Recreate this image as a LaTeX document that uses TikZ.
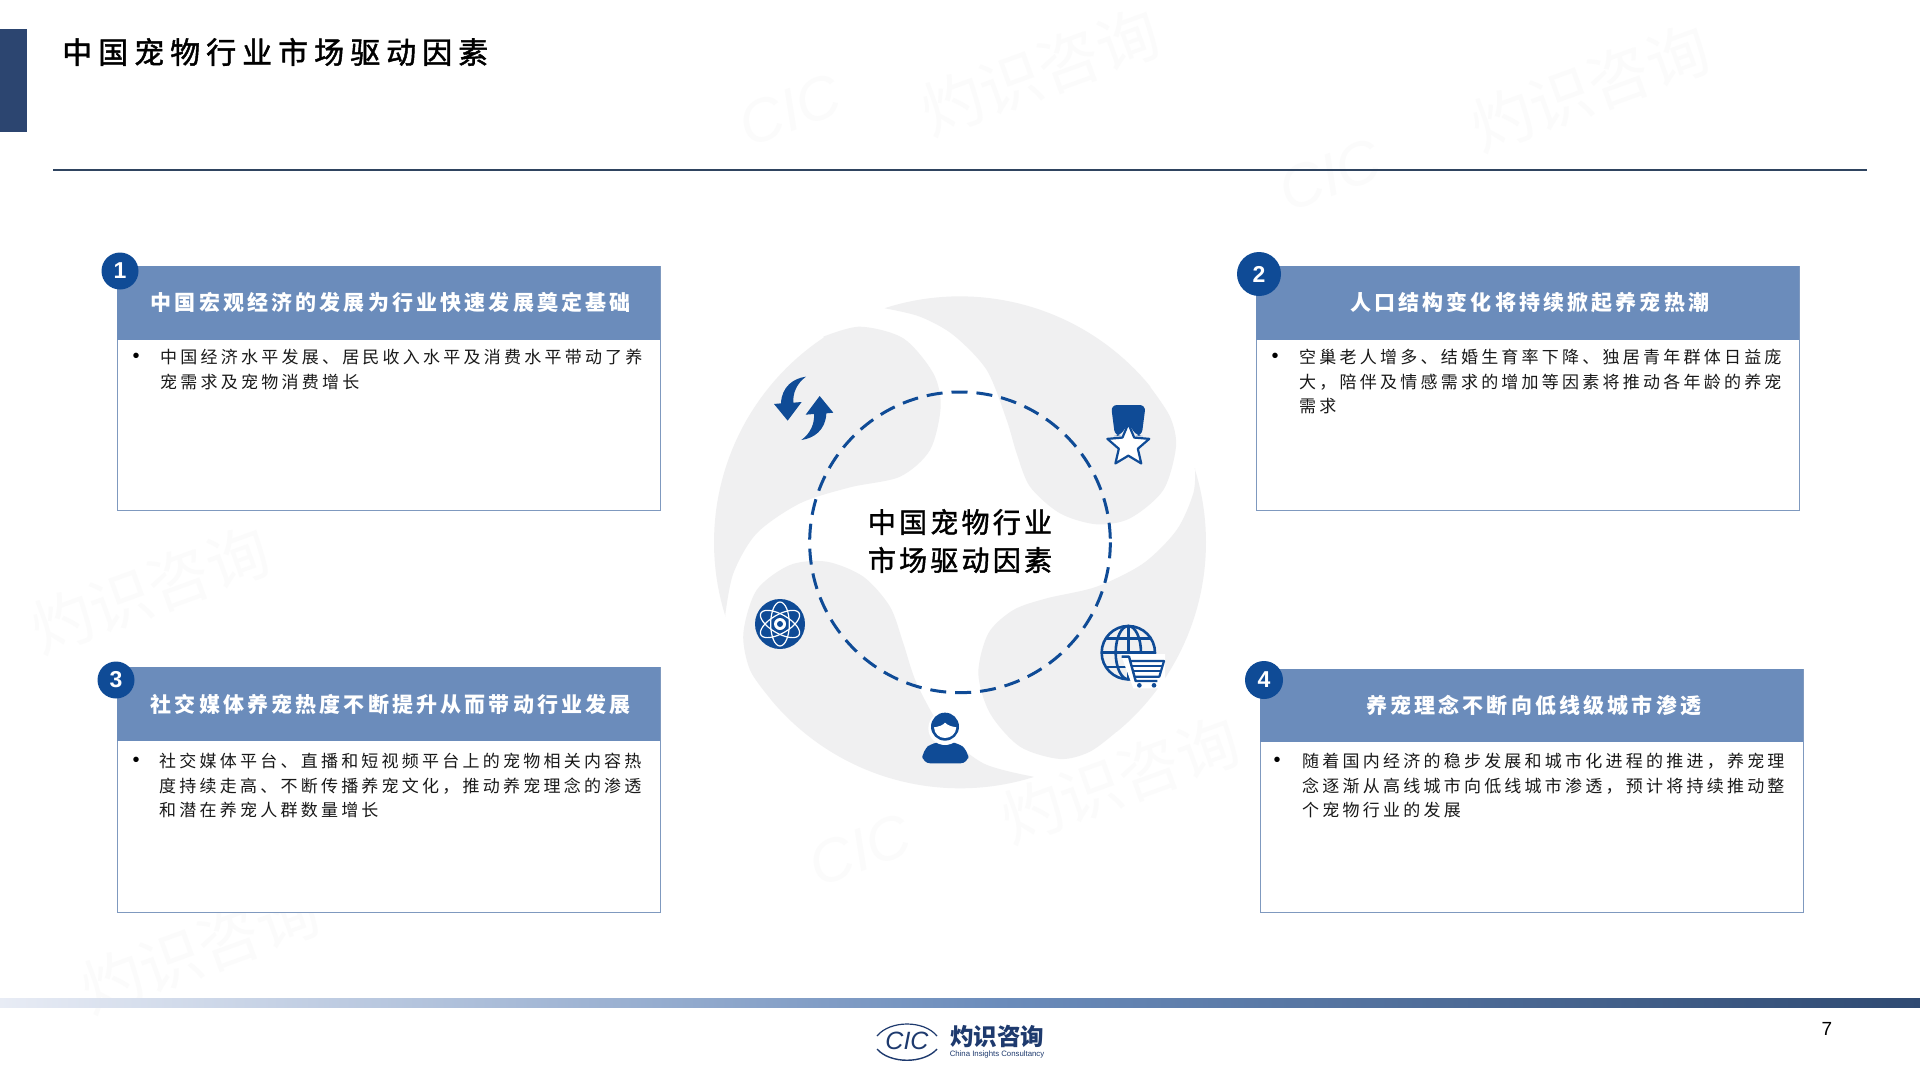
\documentclass[tikz,border=0pt]{standalone}
\usepackage{fontspec}
\setmainfont{Liberation Sans}
\newfontfamily\cjktitle[LetterSpace=20,FakeBold=1.5]{Noto Sans CJK SC}
\newfontfamily\cjkcenter[LetterSpace=11.5,FakeBold=1.5]{Noto Sans CJK SC}
\newfontfamily\cjkhead[LetterSpace=15]{Noto Sans CJK SC}
\newfontfamily\cjkbody[LetterSpace=19]{Noto Sans CJK SC}
\newfontfamily\cjkplain{Noto Sans CJK SC}
\newcommand{\fwc}{\char"FF0C\relax}
\definecolor{navy}{HTML}{0F4B96}
\definecolor{headblue}{HTML}{6B8CBB}
\definecolor{edgeblue}{HTML}{7F99BF}
\definecolor{swirl}{HTML}{F0F0F1}
\definecolor{logoblue}{HTML}{1E3A6E}
\definecolor{wmgray}{HTML}{FBFBFB}
\definecolor{sidebar}{HTML}{2C4570}
\definecolor{rulecolor}{HTML}{2F4460}
\tikzset{
  bodybox/.style={draw=edgeblue,line width=1.4pt,fill=white,anchor=north west,inner sep=0pt},
  headbox/.style={fill=headblue,anchor=north west,inner sep=0pt,text=white,font=\cjkhead\fontsize{21}{24}\selectfont\bfseries},
  badge/.style={circle,fill=navy,text=white,inner sep=0pt,font=\fontsize{23}{23}\selectfont\bfseries},
  bodytext/.style={anchor=north west,align=left,inner sep=0pt,text=black!90,font=\cjkbody\fontsize{17}{24.4}\selectfont},
  bulletmark/.style={inner sep=0pt,font=\fontsize{20}{20}\selectfont},
  wm/.style={text=wmgray,rotate=20,inner sep=0pt,font=\cjkplain\fontsize{62}{62}\selectfont},
  wmc/.style={text=wmgray,rotate=20,inner sep=0pt,font=\fontsize{60}{60}\selectfont\itshape},
  iconline/.style={draw=navy,line width=2.6pt},
}
\begin{document}
\begin{tikzpicture}[x=1pt,y=-1pt]
\useasboundingbox (0,0) rectangle (1920,1080);
\fill[white] (0,0) rectangle (1920,1080);
% watermarks
\node[wm] (w1) at (1040,72) {灼识咨询};
\node[wm] (w2) at (1590,88) {灼识咨询};
\node[wm] (w6) at (150,590) {灼识咨询};
\node[wm] (w8) at (1120,780) {灼识咨询};
\node[wm] (w10) at (200,950) {灼识咨询};
\node[wmc] (c1) at (790,110) {CIC};
\node[wmc] (c2) at (1330,175) {CIC};
\node[wmc] (c5) at (860,850) {CIC};
% title
\fill[sidebar] (0,29) rectangle (27,132);
\node[inner sep=0pt,anchor=west,font=\cjktitle\fontsize{30}{32}\selectfont] (title) at (62,52) {中国宠物行业市场驱动因素};
\coordinate (ruleL) at (53,169.5);
\coordinate (ruleR) at (1867,169.5);
\draw[rulecolor,line width=2pt] (ruleL) -- (ruleR);
% centre graphic
\begin{scope}[shift={(700,280)},scale=0.33333]
\fill[swirl] plot[domain=162.5:236.4,samples=40] ({780+738*cos(\x)},{787+738*sin(\x)}) -- plot[smooth] coordinates {(370,170)(480,140)(610,175)(700,280)(722,380)(690,510)(600,590)(450,622)(300,670)(170,760)(100,880)(75,1010)} -- cycle;
\fill[swirl] plot[domain=252.2:320.7,samples=40] ({780+738*cos(\x)},{787+738*sin(\x)}) -- plot[smooth] coordinates {(1350,320)(1410,410)(1428,500)(1390,630)(1290,715)(1190,733)(1080,700)(990,620)(950,520)(920,420)(860,270)(760,165)(660,110)(555,85)} -- cycle;
\fill[swirl] plot[domain=342.5:410.4,samples=40] ({780+738*cos(\x)},{787+738*sin(\x)}) -- plot[smooth] coordinates {(1250,1355)(1170,1415)(1080,1437)(960,1400)(870,1300)(835,1180)(865,1060)(940,990)(1040,955)(1190,920)(1330,850)(1430,750)(1480,640)(1485,565)} -- cycle;
\fill[swirl] plot[domain=72.6:140.6,samples=40] ({780+738*cos(\x)},{787+738*sin(\x)}) -- plot[smooth] coordinates {(210,1255)(150,1170)(130,1060)(170,930)(270,855)(380,845)(490,890)(570,980)(610,1090)(650,1210)(730,1350)(850,1450)(1000,1490)} -- cycle;
\draw[navy,line width=3pt,dash pattern=on 16pt off 9pt] (780,787) circle[radius=451];
% refresh arrows
\fill[navy] (318,290) .. controls (280,295) and (245,320) .. (243,370) -- (222,372) -- (263,422) -- (305,366) -- (280,368) .. controls (278,340) and (290,310) .. (318,290) -- cycle;
\fill[navy] (304,480) .. controls (342,475) and (377,450) .. (379,400) -- (400,398) -- (359,348) -- (317,404) -- (342,402) .. controls (344,430) and (332,460) .. (304,480) -- cycle;
% medal
\fill[navy,rounded corners=6pt] (1233,375) -- (1337,375) -- (1325,468) -- (1310,468) -- (1285,430) -- (1260,468) -- (1245,468) -- cycle;
\draw[navy,line width=2.2pt,line join=round,fill=white,shift={(1285,497)}]
  (-90:66) -- (-54:30) -- (-18:66) -- (18:30) -- (54:66) -- (90:30) -- (126:66) -- (162:30) -- (198:66) -- (234:30) -- cycle;
% globe and cart
\draw[iconline] (1285,1118) circle[radius=80];
\draw[iconline] (1285,1118) circle[x radius=38,y radius=80];
\draw[iconline] (1285,1038) -- (1285,1198);
\draw[iconline] (1205,1118) -- (1365,1118);
\draw[iconline] (1218,1075) -- (1352,1075);
\draw[iconline] (1218,1161) -- (1352,1161);
\fill[white] (1262,1122) -- (1395,1122) -- (1395,1225) -- (1300,1225) -- cycle;
\draw[navy,line width=2.4pt,line join=round] (1265,1130) -- (1287,1130) -- (1307,1203) -- (1372,1203);
\draw[navy,line width=2.2pt,line join=round] (1292,1143) -- (1392,1143) -- (1378,1190) -- (1304,1190);
\draw[navy,line width=1.8pt] (1297,1158) -- (1387,1158);
\draw[navy,line width=1.8pt] (1301,1174) -- (1382,1174);
\fill[navy] (1318,1216) circle[radius=7];
\fill[navy] (1362,1216) circle[radius=7];
% person
\fill[navy,rounded corners=8pt] (667,1450) -- (667,1412) -- (700,1386) -- (770,1386) -- (805,1412) -- (805,1450) -- cycle;
\fill[white] (735,1345) circle[radius=50];
\fill[navy] (735,1340) circle[radius=42];
\fill[white] (702,1342) .. controls (718,1340) and (730,1335) .. (735,1328) .. controls (745,1338) and (758,1340) .. (769,1342) .. controls (768,1362) and (752,1374) .. (735,1374) .. controls (718,1374) and (703,1362) .. (702,1342) -- cycle;
% atom
\fill[navy] (240,1032) circle[radius=75];
\foreach \ang in {30,90,150}{
  \draw[white,line width=1.2pt,rotate around={\ang:(240,1032)}] (240,1032) circle[x radius=66,y radius=28];
}
\fill[white] (240,1032) circle[radius=18];
\fill[navy] (240,1032) circle[radius=9];
\end{scope}
\node[inner sep=0pt,align=center,font=\cjkcenter\fontsize{28}{38}\selectfont] (centre) at (960,541) {中国宠物行业\\市场驱动因素};
% boxes
\node[bodybox,minimum width=543pt,minimum height=243.5pt] (box1) at (117,266) {};
\node[headbox,minimum width=543pt,minimum height=73.5pt] (head1) at (117,266) {\hspace{4pt}中国宏观经济的发展为行业快速发展奠定基础};
\node[bulletmark] (bul1) at (136,358) {•};
\node[bodytext] (txt1) at (160,349) {中国经济水平发展、居民收入水平及消费水平带动了养\\宠需求及宠物消费增长};
\node[badge,minimum size=37pt] (num1) at (120,271) {1};

\node[bodybox,minimum width=543pt,minimum height=243.5pt] (box2) at (1256,266) {};
\node[headbox,minimum width=543pt,minimum height=73.5pt] (head2) at (1256,266) {\hspace{4pt}人口结构变化将持续掀起养宠热潮};
\node[bulletmark] (bul2) at (1275,358) {•};
\node[bodytext] (txt2) at (1299,349) {空巢老人增多、结婚生育率下降、独居青年群体日益庞\\大\fwc 陪伴及情感需求的增加等因素将推动各年龄的养宠\\需求};
\node[badge,minimum size=44pt] (num2) at (1259,274) {2};

\node[bodybox,minimum width=543pt,minimum height=245pt] (box3) at (117,667) {};
\node[headbox,minimum width=543pt,minimum height=74pt] (head3) at (117,667) {\hspace{4pt}社交媒体养宠热度不断提升从而带动行业发展};
\node[bulletmark] (bul3) at (136,762) {•};
\node[bodytext] (txt3) at (159,753) {社交媒体平台、直播和短视频平台上的宠物相关内容热\\度持续走高、不断传播养宠文化\fwc 推动养宠理念的渗透\\和潜在养宠人群数量增长};
\node[badge,minimum size=37pt] (num3) at (116,680) {3};

\node[bodybox,minimum width=543pt,minimum height=243pt] (box4) at (1260,669) {};
\node[headbox,minimum width=543pt,minimum height=73pt] (head4) at (1260,669) {\hspace{4pt}养宠理念不断向低线级城市渗透};
\node[bulletmark] (bul4) at (1277,762) {•};
\node[bodytext] (txt4) at (1302,753) {随着国内经济的稳步发展和城市化进程的推进\fwc 养宠理\\念逐渐从高线城市向低线城市渗透\fwc 预计将持续推动整\\个宠物行业的发展};
\node[badge,minimum size=38pt] (num4) at (1264,680) {4};
% footer bar
\shade[left color={rgb,255:red,232;green,236;blue,245},right color=headblue] (0,998) rectangle (1000,1007);
\shade[left color=headblue,right color={rgb,255:red,47;green,74;blue,114}] (1000,998) rectangle (1920,1007);
% logo
\coordinate (logoC) at (907,1041);
\draw[logoblue,line width=1.2pt] (877,1036) .. controls (890,1020) and (924,1020) .. (937,1036);
\draw[logoblue,line width=1.4pt] (877,1049) .. controls (890,1064) and (924,1064) .. (937,1049);
\node[inner sep=0pt,text=logoblue,font=\fontsize{25}{25}\selectfont\itshape] (logoCIC) at (logoC) {CIC};
\node[inner sep=0pt,text=logoblue,font=\cjkplain\fontsize{23.5}{24}\selectfont\bfseries] (logoCN) at (997,1036) {灼识咨询};
\node[inner sep=0pt,text=logoblue,font=\fontsize{7.8}{9}\selectfont] (logoEN) at (997,1054) {China Insights Consultancy};
\node[inner sep=0pt,font=\fontsize{19}{19}\selectfont] (pageno) at (1827,1029) {7};
\end{tikzpicture}
\end{document}
